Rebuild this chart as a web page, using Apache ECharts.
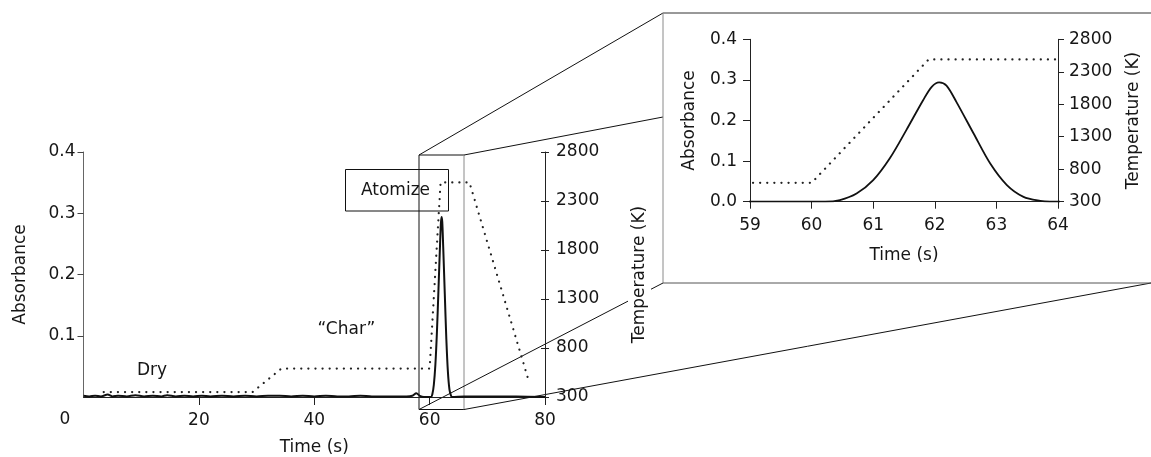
<!DOCTYPE html>
<html>
<head>
<meta charset="utf-8">
<script src="https://cdn.jsdelivr.net/npm/echarts@6/dist/echarts.min.js"></script>
<style>html,body{margin:0;padding:0;background:#fff}#c{width:1151px;height:457px}</style>
</head>
<body>
<div id="c"></div>
<script>
// ---- data ----
const timeAbs = [0, 1, 2, 3, 4.2, 5, 6, 7.5, 9, 10.5, 12, 13.5, 14.5, 16, 17.5, 19, 20.5, 22, 24, 26, 28, 30, 32, 34, 36, 38, 40, 42, 44, 46, 48, 50, 52, 54, 56, 57, 57.7, 58.3, 59, 60, 60.22, 60.46, 60.73, 61.0, 61.27, 61.54, 61.81, 61.95, 62.07, 62.19, 62.35, 62.63, 62.9, 63.17, 63.44, 63.71, 63.87, 66, 70, 75, 80];
const absorbance = [0.002, 0.001, 0.002, 0.001, 0.004, 0.001, 0.002, 0.001, 0.003, 0.001, 0.002, 0.001, 0.003, 0.001, 0.002, 0.001, 0.002, 0.001, 0.002, 0.001, 0.002, 0.001, 0.002, 0.002, 0.001, 0.002, 0.001, 0.002, 0.001, 0.001, 0.002, 0.001, 0.001, 0.001, 0.001, 0.002, 0.006, 0.002, 0, 0, 0, 0.004, 0.02, 0.053, 0.107, 0.177, 0.25, 0.283, 0.294, 0.286, 0.246, 0.168, 0.094, 0.041, 0.012, 0.002, 0, 0.001, 0.001, 0.001, 0];
const timeTemp = [3.5, 29.3, 34.3, 60.0, 61.9, 66.9, 77.0];
const temperature = [350, 350, 590, 590, 2490, 2490, 500];

const mainTimeTicks = [20, 40, 60, 80];
const mainAbsTicks = [0.1, 0.2, 0.3, 0.4];
const insetTimeTicks = [59, 60, 61, 62, 63, 64];
const insetAbsTicks = [0, 0.1, 0.2, 0.3, 0.4];
const tempTicks = [300, 800, 1300, 1800, 2300, 2800];
const stageLabels = ['Dry', '\u201cChar\u201d', 'Atomize'];

// ---- chart ----
const FONT = 'DejaVu Sans';
const TXT = '#161616';
const FS = 17;
const absData = timeAbs.map((t, i) => [t, absorbance[i]]);
const tempData = timeTemp.map((t, i) => [t, temperature[i]]);

const chart = echarts.init(document.getElementById('c'), null, {renderer: 'canvas'});

const lbl = {fontFamily: FONT, fontSize: FS, color: TXT};
const nameStyle = {fontFamily: FONT, fontSize: FS, color: TXT};
const plain = v => String(v);

function ln(x1, y1, x2, y2, color) {
  return {type: 'line', z: -1, shape: {x1, y1, x2, y2}, style: {stroke: color || '#111', lineWidth: 1}, silent: true};
}
function txt(x, y, s) {
  return {type: 'text', z: 10, x, y, style: {text: s, font: FS + 'px "' + FONT + '"', fill: TXT, align: 'center', verticalAlign: 'middle'}, silent: true};
}
const dotted = {color: '#222', width: 2.2, type: [0.1, 7], cap: 'round'};

chart.setOption({
  animation: false,
  backgroundColor: '#fff',
  grid: [
    {left: 83.5, top: 152, width: 461.5, height: 245, containLabel: false, outerBoundsMode: 'none'},
    {left: 750, top: 39.3, width: 308, height: 162.4, containLabel: false, outerBoundsMode: 'none'}
  ],
  xAxis: [
    {
      type: 'value', gridIndex: 0, min: 0, max: 80,
      name: 'Time (s)', nameLocation: 'middle', nameGap: 42, nameTextStyle: nameStyle,
      axisLine: {lineStyle: {color: '#222', width: 1}},
      axisTick: {length: 8, lineStyle: {color: '#222'}, customValues: mainTimeTicks},
      axisLabel: Object.assign({margin: 15, customValues: mainTimeTicks}, lbl),
      splitLine: {show: false}
    },
    {
      type: 'value', gridIndex: 1, min: 59, max: 64, interval: 1,
      name: 'Time (s)', nameLocation: 'middle', nameGap: 45, nameTextStyle: nameStyle,
      axisLine: {lineStyle: {color: '#222', width: 1}},
      axisTick: {length: 7, lineStyle: {color: '#222'}, customValues: insetTimeTicks},
      axisLabel: Object.assign({margin: 15, customValues: insetTimeTicks}, lbl),
      splitLine: {show: false}
    }
  ],
  yAxis: [
    {
      type: 'value', gridIndex: 0, min: 0, max: 0.4, position: 'left',
      name: 'Absorbance', nameLocation: 'middle', nameGap: 54, nameRotate: 90, nameTextStyle: nameStyle,
      axisLine: {show: true, lineStyle: {color: '#666', width: 1}},
      axisTick: {show: true, length: 6, lineStyle: {color: '#444'}, customValues: mainAbsTicks},
      axisLabel: Object.assign({margin: 8, customValues: mainAbsTicks, formatter: v => v.toFixed(1)}, lbl),
      splitLine: {show: false}
    },
    {
      type: 'value', gridIndex: 0, min: 300, max: 2800, position: 'right',
      name: 'Temperature (K)', nameLocation: 'middle', nameGap: 83, nameRotate: 90,
      nameTextStyle: Object.assign({backgroundColor: '#fff', padding: [3, 4]}, nameStyle),
      axisLine: {show: true, lineStyle: {color: '#222', width: 1}},
      axisTick: {show: true, length: 4, lineStyle: {color: '#222'}, customValues: tempTicks},
      axisLabel: Object.assign({margin: 11, customValues: tempTicks, formatter: plain}, lbl),
      splitLine: {show: false}
    },
    {
      type: 'value', gridIndex: 0, min: 300, max: 2800, position: 'right',
      axisLine: {show: false},
      axisTick: {show: true, inside: true, length: 4, lineStyle: {color: '#222'}, customValues: tempTicks},
      axisLabel: {show: false},
      splitLine: {show: false}
    },
    {
      type: 'value', gridIndex: 1, min: 0, max: 0.4, position: 'left',
      name: 'Absorbance', nameLocation: 'middle', nameGap: 52, nameRotate: 90, nameTextStyle: nameStyle,
      axisLine: {show: true, lineStyle: {color: '#222', width: 1}},
      axisTick: {show: true, length: 7, lineStyle: {color: '#222'}, customValues: insetAbsTicks},
      axisLabel: Object.assign({margin: 13, customValues: insetAbsTicks, formatter: v => v.toFixed(1)}, lbl),
      splitLine: {show: false}
    },
    {
      type: 'value', gridIndex: 1, min: 300, max: 2800, position: 'right',
      name: 'Temperature (K)', nameLocation: 'middle', nameGap: 67, nameRotate: 90, nameTextStyle: nameStyle,
      axisLine: {show: true, lineStyle: {color: '#222', width: 1}},
      axisTick: {show: true, length: 6, lineStyle: {color: '#222'}, customValues: tempTicks},
      axisLabel: Object.assign({margin: 11, customValues: tempTicks, formatter: plain}, lbl),
      splitLine: {show: false}
    }
  ],
  series: [
    {
      type: 'line', xAxisIndex: 0, yAxisIndex: 0, data: absData, showSymbol: false, smooth: 0.3,
      lineStyle: {color: '#111', width: 2}, z: 3
    },
    {
      type: 'line', xAxisIndex: 0, yAxisIndex: 1, data: tempData, showSymbol: false,
      lineStyle: dotted, z: 2
    },
    {
      type: 'line', xAxisIndex: 1, yAxisIndex: 3, data: absData, showSymbol: false, smooth: 0.3, clip: true,
      lineStyle: {color: '#111', width: 1.8}, z: 3
    },
    {
      type: 'line', xAxisIndex: 1, yAxisIndex: 4, data: tempData, showSymbol: false, clip: true,
      lineStyle: dotted, z: 2
    }
  ],
  graphic: {
    elements: [
      // magnifier box on the main chart
      ln(419, 155, 419, 409.5),
      ln(419, 155, 464, 155),
      ln(419, 409.5, 464, 409.5),
      ln(464, 155, 464, 409.5, '#8a8a8a'),
      // projection lines
      ln(419, 155, 663, 13),
      ln(464, 155, 663, 117),
      ln(419, 409.5, 663, 283),
      ln(464, 409.5, 1151, 283),
      // inset frame
      ln(663, 13, 1151, 13, '#333'),
      ln(663, 13, 663, 283, '#8a8a8a'),
      ln(663, 283, 1151, 283, '#555'),
      // stage annotations
      {type: 'rect', z: 1, shape: {x: 345.5, y: 169.5, width: 103, height: 41.5}, style: {fill: 'none', stroke: '#111', lineWidth: 1}, silent: true},
      txt(152, 371, stageLabels[0]),
      txt(346.5, 330, stageLabels[1]),
      txt(395.5, 190.5, stageLabels[2]),
      txt(65, 420, '0')
    ]
  }
});
</script>
</body>
</html>
